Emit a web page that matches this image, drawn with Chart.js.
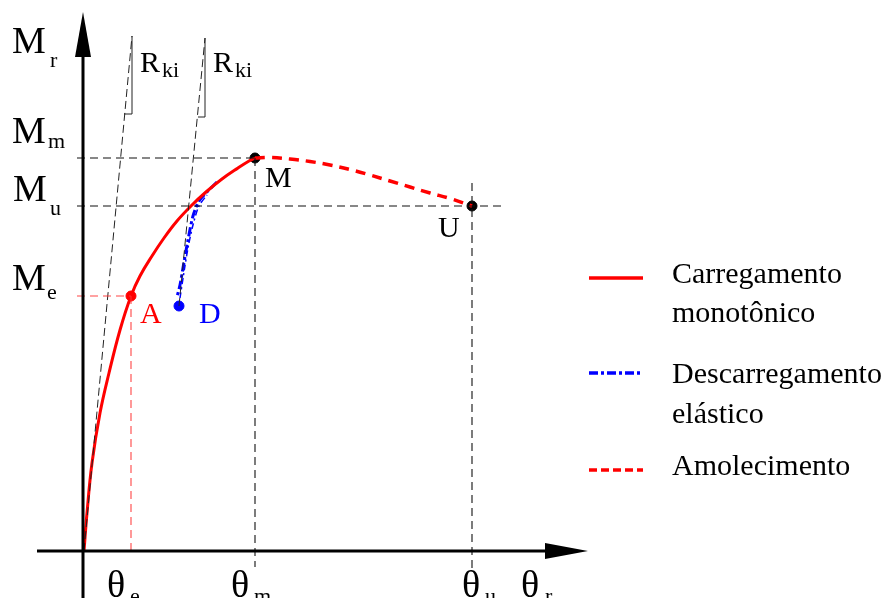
<!DOCTYPE html>
<html lang="pt">

<head>
  <meta charset="UTF-8">
  <script src="https://cdn.jsdelivr.net/npm/chart.js"></script>
  <title>Curva momento-rotação</title>
  <style>
    body { margin: 0; background: #fff; }
    #grafico { display: block; }
  </style>
</head>

<body>
  <canvas id="grafico" width="893" height="598"></canvas>
</body>

</html>
<script>
  // Valores (origem dos eixos em 0,0)
  const carregamento = [[0, 0], [3, 38], [8, 88], [16, 138], [25, 178], [36, 221], [47, 255], [56, 275],
    [68, 295], [80, 313], [93, 330], [107, 345], [122, 359], [138, 372], [154, 383], [165, 390], [171, 393]];
  const amolecimento = [[171, 393], [186, 393.5], [206, 392], [226, 389.5], [246, 386], [266, 381.5],
    [286, 376], [306, 370], [326, 364], [346, 358], [366, 352.5], [388, 345]];
  const descarregamento = [[133, 369], [123, 359], [115, 350], [109, 335], [104, 311], [100, 289], [96, 266], [93, 254]];
  const recarregamento = [[96, 253], [100, 279], [104, 303], [109, 326], [115, 345], [123, 356]];
  const rigidez1 = [[0, 0], [48, 515]];
  const rigidez2 = [[95, 245], [121, 513]];
  const degrau1 = [[40, 437], [48, 437], [48, 515]];
  const degrau2 = [[114, 434], [121, 434], [121, 513]];

  // Pontos notáveis
  const pontoA = [47, 255];
  const pontoD = [95, 245];
  const pontoM = [171, 393];
  const pontoU = [388, 345];

  const legendaTextos = [["Carregamento", "monotônico"], ["Descarregamento", "elástico"], ["Amolecimento"]];

  const ctx = document.getElementById('grafico');

  function pts(lista) {
    return lista.map(p => ({ x: p[0], y: p[1] }));
  }

  function linha(lista, cor, largura, traco) {
    return {
      data: pts(lista),
      showLine: true,
      borderColor: cor,
      borderWidth: largura,
      borderDash: traco || [],
      pointRadius: 0,
      fill: false
    };
  }

  function ponto(p, cor) {
    return {
      data: pts([p]),
      showLine: false,
      pointRadius: 5,
      pointBackgroundColor: cor,
      pointBorderColor: cor
    };
  }

  const tracoGuia = [8, 5];
  const corVermelhoClaro = 'rgba(255, 50, 50, 0.9)';

  // Linhas de chamada tracejadas
  const guias = [
    linha([[-7, pontoM[1]], pontoM], '#111', 1.1, tracoGuia),
    linha([[-7, pontoU[1]], [421, pontoU[1]]], '#111', 1.1, tracoGuia),
    linha([pontoM, [pontoM[0], -16]], '#111', 1.1, tracoGuia),
    linha([[pontoU[0], 368], [pontoU[0], -17]], '#111', 1.1, tracoGuia),
    linha([[-7, pontoA[1]], pontoA], corVermelhoClaro, 1.1, tracoGuia),
    linha([pontoA, [pontoA[0], -5]], corVermelhoClaro, 1.1, tracoGuia)
  ];

  // Eixos com setas e textos
  const desenhos = {
    id: 'desenhos',
    afterDatasetsDraw(chart) {
      const c = chart.ctx;
      const sx = chart.scales.x, sy = chart.scales.y;
      const X = v => sx.getPixelForValue(v);
      const Y = v => sy.getPixelForValue(v);

      c.save();
      c.strokeStyle = '#000';
      c.fillStyle = '#000';
      c.lineWidth = 3;
      c.setLineDash([]);
      // eixo vertical
      c.beginPath();
      c.moveTo(X(-1), Y(-47));
      c.lineTo(X(-1), Y(494));
      c.stroke();
      c.beginPath();
      c.moveTo(X(-1), Y(539));
      c.lineTo(X(-9), Y(494));
      c.lineTo(X(7), Y(494));
      c.closePath();
      c.fill();
      // eixo horizontal
      c.beginPath();
      c.moveTo(X(-47), Y(0));
      c.lineTo(X(461), Y(0));
      c.stroke();
      c.beginPath();
      c.moveTo(X(504), Y(0));
      c.lineTo(X(461), Y(8));
      c.lineTo(X(461), Y(-8));
      c.closePath();
      c.fill();

      function texto(t, x, y, tam, cor) {
        c.font = tam + 'px "Liberation Serif", "DejaVu Serif", serif';
        c.fillStyle = cor || '#000';
        c.textBaseline = 'alphabetic';
        c.fillText(t, x, y);
      }

      texto('M', 12, 53, 38); texto('r', 50, 67, 22);
      texto('M', 12, 143, 38); texto('m', 48, 148, 22);
      texto('M', 13, 201, 38); texto('u', 50, 215, 22);
      texto('M', 12, 290, 38); texto('e', 47, 299, 22);

      texto('θ', 107, 597, 38); texto('e', 130, 603, 22);
      texto('θ', 231, 597, 38); texto('m', 254, 603, 22);
      texto('θ', 462, 597, 38); texto('u', 485, 603, 22);
      texto('θ', 521, 597, 38); texto('r', 545, 603, 22);

      texto('R', 140, 72, 30); texto('ki', 162, 77, 22);
      texto('R', 213, 72, 30); texto('ki', 235, 77, 22);

      texto('M', 265, 187, 30);
      texto('U', 438, 237, 30);
      texto('A', 140, 323, 30, '#ff0000');
      texto('D', 199, 323, 30, '#0000ff');

      // legenda
      const amostras = [
        { y: 278, cor: '#ff0000', traco: [] },
        { y: 373, cor: '#0000ff', traco: [9, 3, 3, 3] },
        { y: 470, cor: '#ff0000', traco: [8, 4] }
      ];
      const baselines = [[283, 322], [383, 423], [475]];
      amostras.forEach((a, i) => {
        c.beginPath();
        c.lineWidth = 3.5;
        c.strokeStyle = a.cor;
        c.setLineDash(a.traco);
        c.moveTo(589, a.y);
        c.lineTo(643, a.y);
        c.stroke();
        legendaTextos[i].forEach((t, j) => texto(t, 672, baselines[i][j], 30));
      });
      c.restore();
    }
  };

  new Chart(ctx, {
    type: 'scatter',
    data: {
      datasets: [
        ...guias,
        linha(rigidez1, '#222', 1, [8, 4]),
        linha(rigidez2, '#222', 1, [8, 4]),
        linha(degrau1, '#222', 1),
        linha(degrau2, '#222', 1),
        { ...linha(carregamento, '#ff0000', 3), tension: 0.4 },
        { ...linha(amolecimento, '#ff0000', 3.5, [10, 7]), tension: 0.4 },
        { ...linha(recarregamento, '#0000ff', 1.5, [6, 3, 2, 3]), tension: 0.3 },
        { ...linha(descarregamento, '#0000ff', 3, [9, 3, 3, 3]), tension: 0.3 },
        ponto(pontoA, '#ff0000'),
        ponto(pontoD, '#0000ff'),
        ponto(pontoM, '#000'),
        ponto(pontoU, '#000')
      ]
    },
    options: {
      responsive: false,
      animation: false,
      layout: { padding: 0, autoPadding: false },
      plugins: {
        legend: { display: false },
        tooltip: { enabled: false }
      },
      scales: {
        x: { type: 'linear', min: -84, max: 809, display: false },
        y: { type: 'linear', min: -47, max: 551, display: false }
      }
    },
    plugins: [desenhos]
  });
</script>
